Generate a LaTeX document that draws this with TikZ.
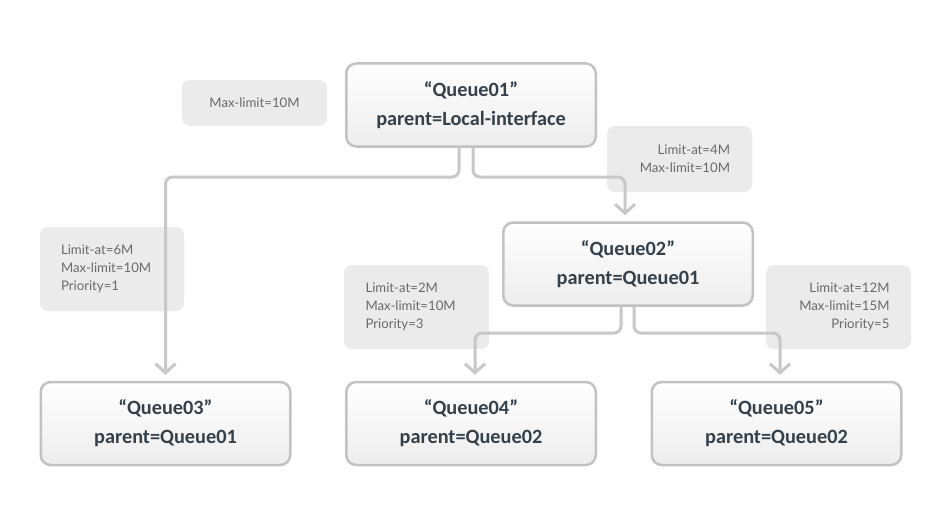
\documentclass[tikz,border=0pt]{standalone}
\usepackage{fontspec}
\setmainfont{Carlito}
\newfontfamily\lblfont{Lato}
\usetikzlibrary{arrows.meta}
\definecolor{boxborder}{HTML}{C2C2C2}
\definecolor{conncol}{HTML}{C8C8C8}
\definecolor{lblfill}{HTML}{EBEBEB}
\definecolor{lbltext}{HTML}{6A6A6A}
\definecolor{qtext}{HTML}{34404A}
\begin{document}
\begin{tikzpicture}[x=1pt,y=-1pt,
  qbox/.style={draw=boxborder, line width=2.5pt, rounded corners=10pt, top color=white, bottom color=black!7,
    minimum width=249.5pt, minimum height=83pt, align=center, text=qtext,
    font=\fontsize{20.3}{29}\selectfont\bfseries},
  lbl/.style={fill=lblfill, rounded corners=8pt, text=lbltext,
    font=\lblfont\fontsize{13.2}{18}\selectfont, inner sep=0pt},
  conn/.style={draw=conncol, line width=3pt, rounded corners=7pt,
    -{Straight Barb[length=9pt,width=20pt]}}]
\path[use as bounding box, fill=white] (0,0) rectangle (950,527);

% parameter labels
\node[lbl, minimum width=145pt, minimum height=46pt] (ml) at (254.5,103) {Max-limit=10M};
\node[lbl, minimum width=145pt, minimum height=66pt, text width=101pt, align=right] (l2) at (679.5,159) {Limit-at=4M\\Max-limit=10M};
\node[lbl, minimum width=144pt, minimum height=84pt, text width=102pt, align=left] (l3) at (112,269) {Limit-at=6M\\Max-limit=10M\\Priority=1};
\node[lbl, minimum width=145pt, minimum height=84pt, text width=102pt, align=left] (l4) at (416.5,307) {Limit-at=2M\\Max-limit=10M\\Priority=3};
\node[lbl, minimum width=145pt, minimum height=84pt, text width=102pt, align=right] (l5) at (838.5,307) {Limit-at=12M\\Max-limit=15M\\Priority=5};

% queue boxes
\node[qbox] (q1) at (471,105) {“Queue01”\\parent=Local-interface};
\node[qbox] (q2) at (628,264) {“Queue02”\\parent=Queue01};
\node[qbox] (q3) at (165.5,423.5) {“Queue03”\\parent=Queue01};
\node[qbox] (q4) at (471,423.5) {“Queue04”\\parent=Queue02};
\node[qbox] (q5) at (776.5,423.5) {“Queue05”\\parent=Queue02};

% connectors
\coordinate (j1) at (0,177);
\coordinate (j2) at (0,333);
\draw[conn] ([xshift=-12pt]q1.south) -- ([xshift=-12pt]q1.south |- j1) -| ([yshift=6pt]q3.north);
\draw[conn] ([xshift=2pt]q1.south) -- ([xshift=2pt]q1.south |- j1) -| ([xshift=-3pt,yshift=6pt]q2.north);
\draw[conn] ([xshift=-7pt]q2.south) -- ([xshift=-7pt]q2.south |- j2) -| ([xshift=4pt,yshift=6pt]q4.north);
\draw[conn] ([xshift=6pt]q2.south) -- ([xshift=6pt]q2.south |- j2) -| ([xshift=3.5pt,yshift=6pt]q5.north);
\end{tikzpicture}
\end{document}
